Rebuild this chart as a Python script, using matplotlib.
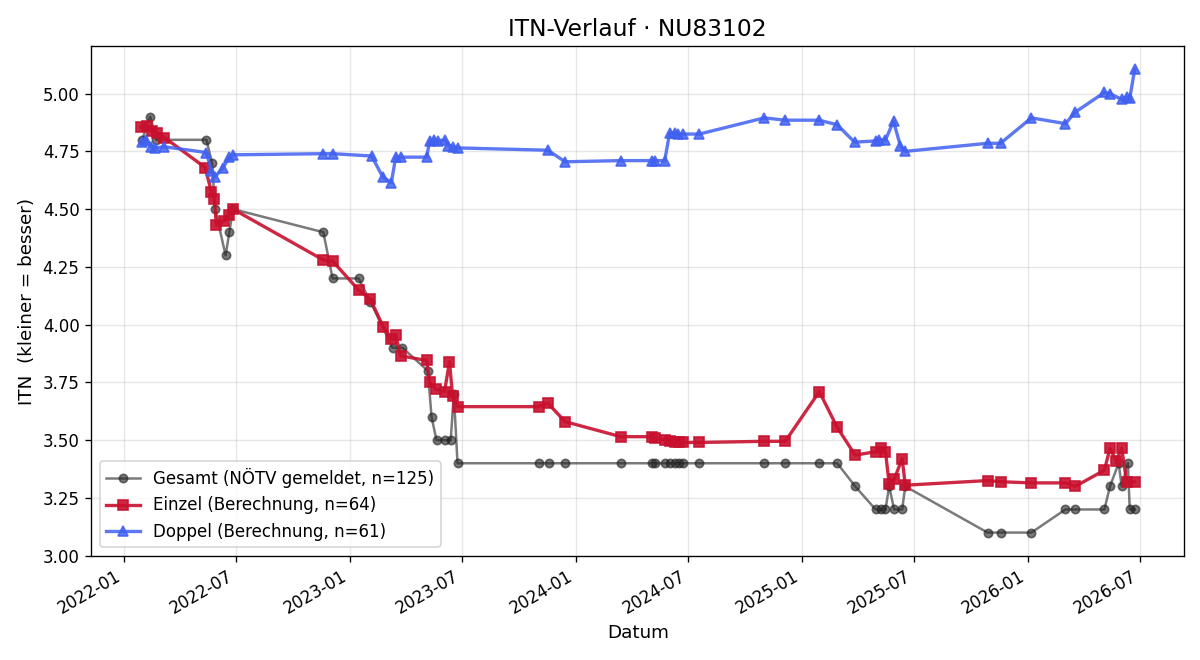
#!/usr/bin/env python3
# -*- coding: utf-8 -*-
"""ITN-Verlauf fuer NU83102: Gesamt, Einzel und Doppel ueber die Zeit."""

import pandas as pd
import matplotlib
matplotlib.use("Agg")
import matplotlib.pyplot as plt
import matplotlib.dates as mdates

# Gesamt (NOETV gemeldet)
gesamt_dates = [
    "2022-01-30", "2022-02-12", "2022-02-22", "2022-05-14", "2022-05-23", "2022-05-28",
    "2022-06-14", "2022-06-20", "2022-06-26", "2022-11-19", "2022-12-04", "2023-01-15",
    "2023-02-03", "2023-03-11", "2023-03-27", "2023-05-07", "2023-05-13", "2023-05-21",
    "2023-06-03", "2023-06-13", "2023-06-18", "2023-06-24", "2023-11-02", "2023-11-19",
    "2023-12-15", "2024-03-14", "2024-05-03", "2024-05-08", "2024-05-24", "2024-06-02",
    "2024-06-10", "2024-06-16", "2024-06-23", "2024-07-19", "2024-11-01", "2024-12-05",
    "2025-01-29", "2025-02-27", "2025-03-28", "2025-04-30", "2025-05-08", "2025-05-16",
    "2025-05-22", "2025-05-30", "2025-06-12", "2025-06-17", "2025-10-28", "2025-11-18",
    "2026-01-07", "2026-03-03", "2026-03-19", "2026-05-05", "2026-05-14", "2026-05-28",
    "2026-06-02", "2026-06-12", "2026-06-15", "2026-06-23",
]
gesamt_itn = [
    4.80, 4.90, 4.80, 4.80, 4.70, 4.50,
    4.30, 4.40, 4.50, 4.40, 4.20, 4.20,
    4.10, 3.90, 3.90, 3.80, 3.60, 3.50,
    3.50, 3.50, 3.70, 3.40, 3.40, 3.40,
    3.40, 3.40, 3.40, 3.40, 3.40, 3.40,
    3.40, 3.40, 3.40, 3.40, 3.40, 3.40,
    3.40, 3.40, 3.30, 3.20, 3.20, 3.20,
    3.30, 3.20, 3.20, 3.30, 3.10, 3.10,
    3.10, 3.20, 3.20, 3.20, 3.30, 3.40,
    3.30, 3.40, 3.20, 3.20,
]

# Einzel (Berechnung)
einzel_dates = [
    "2022-01-28", "2022-02-07", "2022-02-15", "2022-02-23", "2022-03-07", "2022-05-12",
    "2022-05-22", "2022-05-27", "2022-05-30", "2022-06-12", "2022-06-20", "2022-06-26",
    "2022-11-19", "2022-12-04", "2023-01-15", "2023-02-03", "2023-02-24", "2023-03-09",
    "2023-03-16", "2023-03-24", "2023-05-05", "2023-05-10", "2023-05-20", "2023-06-03",
    "2023-06-11", "2023-06-16", "2023-06-24", "2023-11-02", "2023-11-17", "2023-12-15",
    "2024-03-14", "2024-05-03", "2024-05-08", "2024-05-24", "2024-06-02", "2024-06-10",
    "2024-06-16", "2024-06-23", "2024-07-19", "2024-11-01", "2024-12-05", "2025-01-29",
    "2025-02-27", "2025-03-28", "2025-04-30", "2025-05-08", "2025-05-16", "2025-05-22",
    "2025-05-30", "2025-06-12", "2025-06-17", "2025-10-28", "2025-11-18", "2026-01-07",
    "2026-03-03", "2026-03-19", "2026-05-05", "2026-05-14", "2026-05-24", "2026-06-02",
    "2026-06-10", "2026-06-23",
]
einzel_itn = [
    4.855, 4.86, 4.84, 4.83, 4.81, 4.68,
    4.575, 4.545, 4.43, 4.45, 4.475, 4.50,
    4.28, 4.275, 4.15, 4.11, 3.99, 3.94,
    3.955, 3.865, 3.845, 3.75, 3.72, 3.71,
    3.84, 3.69, 3.645, 3.645, 3.66, 3.58,
    3.515, 3.515, 3.51, 3.50, 3.495, 3.49,
    3.49, 3.49, 3.49, 3.495, 3.495, 3.71,
    3.555, 3.435, 3.45, 3.465, 3.45, 3.31,
    3.33, 3.42, 3.305, 3.325, 3.32, 3.315,
    3.315, 3.30, 3.37, 3.465, 3.41, 3.465,
    3.32, 3.32,
]

# Doppel (Berechnung)
doppel_dates = [
    "2022-01-30", "2022-02-05", "2022-02-14", "2022-02-20", "2022-03-07", "2022-05-14",
    "2022-05-22", "2022-05-28", "2022-06-10", "2022-06-20", "2022-06-26", "2022-11-19",
    "2022-12-04", "2023-02-05", "2023-02-23", "2023-03-09", "2023-03-16", "2023-03-24",
    "2023-05-05", "2023-05-10", "2023-05-17", "2023-05-23", "2023-06-03", "2023-06-09",
    "2023-06-16", "2023-06-24", "2023-11-17", "2023-12-15", "2024-03-14", "2024-05-03",
    "2024-05-08", "2024-05-24", "2024-06-01", "2024-06-09", "2024-06-14", "2024-06-23",
    "2024-07-19", "2024-11-01", "2024-12-05", "2025-01-29", "2025-02-27", "2025-03-27",
    "2025-04-30", "2025-05-06", "2025-05-16", "2025-05-29", "2025-06-09", "2025-06-17",
    "2025-10-28", "2025-11-18", "2026-01-07", "2026-03-03", "2026-03-19", "2026-05-05",
    "2026-05-14", "2026-06-02", "2026-06-10", "2026-06-15", "2026-06-23",
]
doppel_itn = [
    4.79, 4.80, 4.77, 4.765, 4.77, 4.745,
    4.665, 4.64, 4.68, 4.725, 4.735, 4.74,
    4.74, 4.73, 4.64, 4.615, 4.725, 4.725,
    4.725, 4.795, 4.80, 4.795, 4.80, 4.775,
    4.77, 4.765, 4.755, 4.705, 4.71, 4.71,
    4.71, 4.71, 4.83, 4.83, 4.825, 4.825,
    4.825, 4.895, 4.885, 4.885, 4.865, 4.79,
    4.795, 4.80, 4.80, 4.88, 4.775, 4.75,
    4.785, 4.785, 4.895, 4.87, 4.92, 5.005,
    5.00, 4.975, 4.985, 4.98, 5.105,
]

labels = [
    "Gesamt (NÖTV gemeldet, n=125)",
    "Einzel (Berechnung, n=64)",
    "Doppel (Berechnung, n=61)",
]


def main():
    # 10 x 5.5 inch at 120 dpi -> 1200 x 660 px
    fig, ax = plt.subplots(figsize=(10, 5.5), dpi=120)

    ax.plot(pd.to_datetime(gesamt_dates), gesamt_itn, "o-", color="#222222",
            alpha=0.6, linewidth=1.5, markersize=5, label=labels[0])
    ax.plot(pd.to_datetime(einzel_dates), einzel_itn, "s-", color="#c8102e",
            alpha=0.9, linewidth=2, markersize=6.5, label=labels[1])
    ax.plot(pd.to_datetime(doppel_dates), doppel_itn, "^-", color="#4060f0",
            alpha=0.85, linewidth=2, markersize=6.5, label=labels[2])

    ax.set_title("ITN-Verlauf · NU83102", fontsize=14)
    ax.set_xlabel("Datum", fontsize=11)
    ax.set_ylabel("ITN  (kleiner = besser)", fontsize=11)
    ax.grid(True, alpha=0.3)
    ax.xaxis.set_major_locator(mdates.MonthLocator(bymonth=[1, 7]))
    ax.xaxis.set_major_formatter(mdates.DateFormatter("%Y-%m"))
    ax.legend(loc="lower left")
    fig.autofmt_xdate()

    fig.subplots_adjust(left=0.076, right=0.987, top=0.93, bottom=0.158)
    fig.savefig("out.png")
    plt.close(fig)
    return 0


if __name__ == "__main__":
    main()
